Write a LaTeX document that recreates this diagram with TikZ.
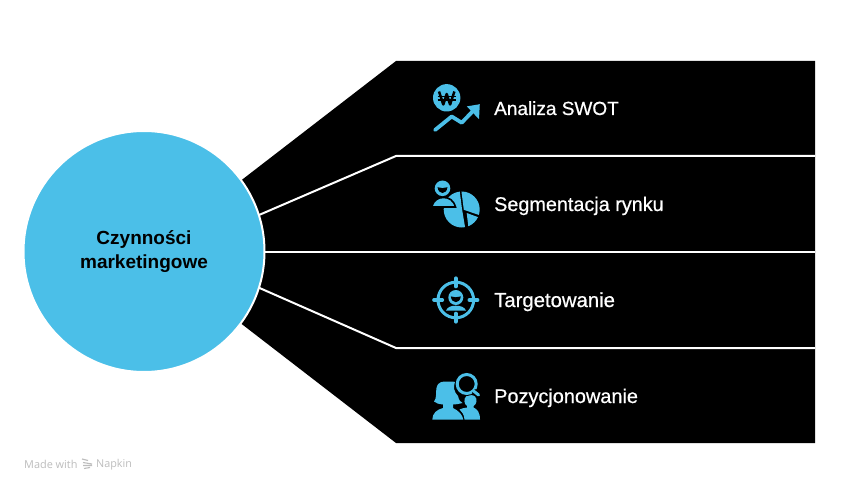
\documentclass[tikz,border=0pt]{standalone}
\usepackage{fontspec}
\setmainfont{Liberation Sans}
\newfontfamily\medfont[FakeBold=0.6]{Liberation Sans}
\newfontfamily\markfont{Open Sans}
\definecolor{skyb}{HTML}{4BBFE8}
\definecolor{markg}{HTML}{BDBDBD}
\tikzset{
  lbl/.style={anchor=base west,text=white,font=\medfont\fontsize{#1}{22}\selectfont,inner sep=0pt},
  sep/.style={draw=white,line width=2pt,line join=miter},
  ic/.style={fill=skyb,draw=none},
  icl/.style={draw=skyb,fill=none},
  ick/.style={draw=black,fill=none}
}
\begin{document}
\begin{tikzpicture}[x=1pt,y=-1pt]
\useasboundingbox (0,0) rectangle (841,492);
\fill[white] (0,0) rectangle (841,492);
% black fan
\fill[black] (230,189) -- (396,61) -- (815,61) -- (815,443) -- (396,443) -- (230,315) -- cycle;
% separators
\coordinate (c1) at (230,227.5);
\coordinate (k1) at (396,156);
\coordinate (e1) at (815,156);
\coordinate (c2) at (230,251.5);
\coordinate (e2) at (815,251.5);
\coordinate (c3) at (230,275);
\coordinate (k3) at (396,348);
\coordinate (e3) at (815,348);
\draw[sep] (c1) -- (k1) -- (e1);
\draw[sep] (c2) -- (e2);
\draw[sep] (c3) -- (k3) -- (e3);
% hub
\node[circle,fill=skyb,draw=white,line width=2pt,minimum size=241pt,inner sep=0pt,align=center,
      font=\bfseries\fontsize{19}{23.5}\selectfont,text=black] (hub) at (144,251.5) {Czynności\\marketingowe};
% labels
\node[lbl=19.0] (l1) at (494,115) {Analiza SWOT};
\node[lbl=19.8] (l2) at (494,211) {Segmentacja rynku};
\node[lbl=20.3] (l3) at (494,307) {Targetowanie};
\node[lbl=19.9] (l4) at (494,403) {Pozycjonowanie};
% icon 1
\fill[ic] (446.7,97.8) circle (13.7);
\draw[ick,line width=2.5pt,line join=round] (439,91.5) -- (443.3,104.5) -- (446.7,94) -- (450.1,104.5) -- (454.4,91.5);
\draw[ick,line width=1.5pt] (437.5,96.5) -- (456,96.5);
\draw[ick,line width=1.5pt] (437.5,100) -- (456,100);
\draw[icl,line width=3.8pt,line cap=round,line join=round] (435,130) -- (451.7,116.5) -- (461.7,122.7) -- (473,111);
\fill[ic] (479.8,104.2) -- (466.8,106.4) -- (479,119.2) -- cycle;
% icon 2: pie, then person
\begin{scope}
  \clip (461.7,209.5) circle (18);
  \fill[ic] (459.3,188) -- (462,209) -- (465.5,230) -- (440,230) -- (440,188) -- cycle;
  \fill[ic] (461,188) -- (463.8,209.8) -- (482,216) -- (482,188) -- cycle;
  \fill[ic] (466.7,213) -- (482,218.6) -- (482,232) -- (469,232) -- cycle;
\end{scope}
\fill[ic] (442.5,188.3) circle (7.8);
\fill[black] (437.6,187.2) .. controls (438,191) and (440,193) .. (442.5,193) .. controls (445,193) and (447,191) .. (447.4,187.2) .. controls (444,188.4) and (441,188.4) .. (437.6,187.2) -- cycle;
\filldraw[fill=skyb,draw=black,line width=1.6pt] (431.8,207) .. controls (433.5,200) and (438,197.5) .. (443.5,197.5) .. controls (449,197.5) and (453.5,200) .. (455.5,207) -- cycle;
% icon 3
\draw[icl,line width=3pt] (455.8,300) circle (17.8);
\draw[icl,line width=3.6pt,line cap=round] (455.8,278.2) -- (455.8,286.5);
\draw[icl,line width=3.6pt,line cap=round] (455.8,313.5) -- (455.8,321.8);
\draw[icl,line width=3.6pt,line cap=round] (434,300) -- (442.3,300);
\draw[icl,line width=3.6pt,line cap=round] (469.3,300) -- (477.6,300);
\fill[ic] (455.8,297.5) circle (7.5);
\fill[black] (450.8,296.4) .. controls (451.2,300) and (453.3,302.2) .. (455.8,302.2) .. controls (458.3,302.2) and (460.4,300) .. (460.8,296.4) .. controls (457.4,297.6) and (454.2,297.6) .. (450.8,296.4) -- cycle;
\fill[ic] (446,310.5) .. controls (447.5,307) and (451,305.7) .. (455.8,305.7) .. controls (460.6,305.7) and (464.5,307) .. (466,310.5) -- cycle;
% icon 4
\fill[ic] (432.3,419.5) .. controls (432.5,413) and (437,409.5) .. (443,408) -- (443,404.5)
  .. controls (439,404) and (436,403.5) .. (434,401.5)
  .. controls (437,398) and (435.5,393) .. (436.5,388)
  .. controls (438,381) and (443,381.5) .. (448,381.5)
  .. controls (452,381.5) and (453.5,381.5) .. (455,382)
  .. controls (453,387) and (454,392) .. (458,396)
  .. controls (459,400) and (460,402) .. (462.5,403)
  .. controls (459,404) and (456,404.5) .. (453,404.5)
  -- (453,408) .. controls (455.5,409) and (458,411) .. (460,413)
  .. controls (462,415) and (463,418) .. (463.3,419.5) -- cycle;
\fill[ic] (464.5,419.5) .. controls (464,414) and (462,412) .. (459.5,409.5)
  .. controls (461,408.5) and (464,408) .. (467,407.5) -- (467,406)
  .. controls (464,404) and (463.5,399) .. (466,396.5)
  .. controls (468,394.5) and (473,394.5) .. (475,396.5)
  .. controls (477.5,399) and (477,404) .. (473.5,406) -- (473.5,407.5)
  .. controls (477,409) and (480,412) .. (480,419.5) -- cycle;
\fill[black] (466.7,384) circle (12);
\draw[icl,line width=3pt] (466.7,384) circle (9.5);
\draw[black,line width=5pt] (473.5,391) -- (479,395.5);
\draw[icl,line width=3pt,line cap=round] (473.5,391) -- (478.6,395);
% watermark
\node[anchor=west,inner sep=0pt,text=markg,font=\markfont\fontsize{10.9}{12}\selectfont] (m1) at (24,464.5) {Made with};
\node[anchor=west,inner sep=0pt,text=markg,font=\markfont\fontsize{10.8}{12}\selectfont] (m2) at (96,464.5) {Napkin};
\draw[markg,line width=1.1pt] (82,459) -- (88,460.5) (83,462.5) -- (92,464) (83,465.5) -- (92,465.5) (84,468.5) -- (90,467.5);
\end{tikzpicture}
\end{document}
